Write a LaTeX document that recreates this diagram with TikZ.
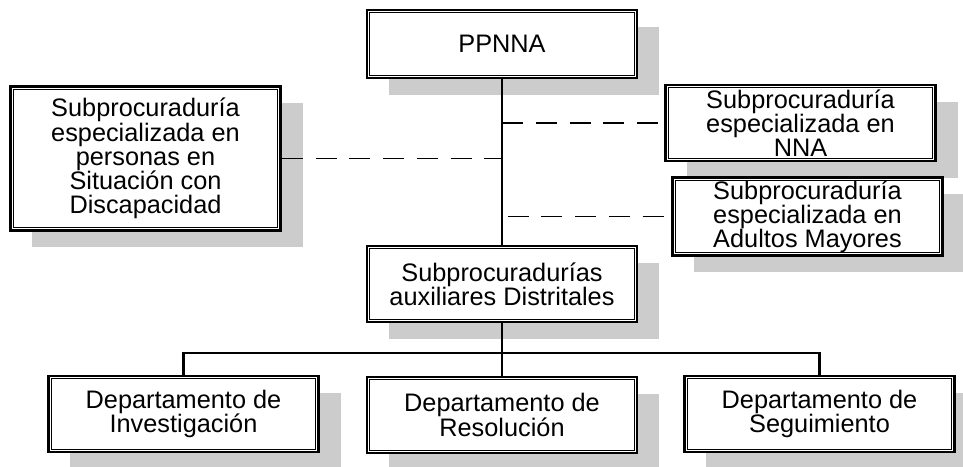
\documentclass[tikz,border=0pt]{standalone}
\usepackage{fontspec}
\setmainfont{Liberation Sans}
\usetikzlibrary{shadows}

\begin{document}
\begin{tikzpicture}[x=0.025cm,y=-0.025cm,
        unit/.style={draw,fill=white,line width=1.8pt,
            minimum width=6.75cm,minimum height=1.9cm,align=center,inner sep=2pt,
            font=\fontsize{18}{17.2}\selectfont,
            drop shadow={shadow xshift=0.55cm,shadow yshift=-0.42cm,fill=black!20,opacity=1}},
        link/.style={line width=2pt},
        staff/.style={line width=1.3pt,dash pattern=on 15pt off 9pt}]
        \useasboundingbox (0,0) rectangle (963,467);
        % top of the chart
        \node[unit,minimum height=1.7cm] (ppnna) at (502,44) {PPNNA};
        \node[unit,minimum height=3.6cm] (discap) at (145.5,158.5)
            {Subprocuradur\'ia\\especializada en\\personas en\\Situaci\'on con\\Discapacidad};
        \node[unit] (nna) at (800.5,123) {Subprocuradur\'ia\\especializada en\\NNA};
        \node[unit] (adultos) at (807.5,216.5)
            {Subprocuradur\'ia\\especializada en\\Adultos Mayores};
        \node[unit] (aux) at (502,284) {Subprocuradur\'ias\\auxiliares Distritales};
        % departments
        \node[unit] (inv) at (183.5,414) {Departamento de\\Investigaci\'on};
        \node[unit] (res) at (502,415) {Departamento de\\Resoluci\'on};
        \node[unit] (seg) at (819.5,414) {Departamento de\\Seguimiento};
        \coordinate (bus) at (502,353);

        % inner line of the double frames
        \foreach \n in {ppnna,discap,nna,adultos,aux,inv,res,seg}
            \draw[line width=0.8pt] ([shift={(2.8pt,-2.8pt)}]\n.north west)
                rectangle ([shift={(-2.8pt,2.8pt)}]\n.south east);

        \draw[link] (ppnna.south) -- (aux.north);
        \draw[staff] (discap.east) -- (discap.east -| ppnna.south);
        \draw[staff] (nna.west -| ppnna.south) -- (nna.west);
        \draw[staff] ([xshift=4pt]adultos.west -| ppnna.south) -- (adultos.west);
        \draw[link] (aux.south) -- (bus);
        \draw[link] (inv.north) |- (bus) -| (seg.north);
        \draw[link] (bus) -- (res.north);
    \end{tikzpicture}
\end{document}
